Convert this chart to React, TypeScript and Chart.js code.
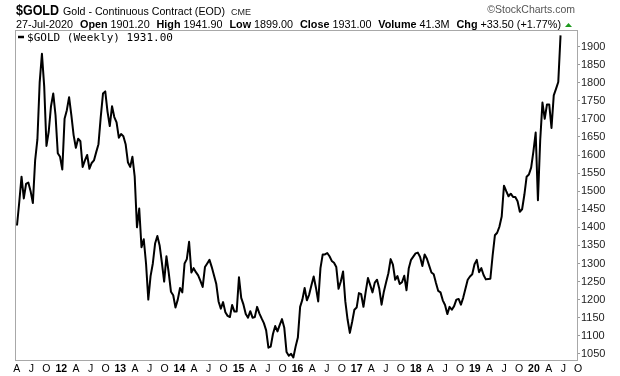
import React, { useEffect, useRef } from 'react';
import { Chart, registerables } from 'chart.js';

Chart.register(...registerables);

// ---- data (weekly gold closes, sampled every two weeks) ----
const SERIES_START = '2011-05-16';
const STEP_DAYS = 14;
const GOLD_CLOSE = [
  1405, 1470, 1540, 1480, 1520, 1524, 1500, 1467, 1585, 1643,
  1800, 1880, 1790, 1625, 1665, 1735, 1770, 1710, 1605, 1595,
  1560, 1700, 1724, 1760, 1710, 1655, 1620, 1645, 1638, 1567,
  1585, 1600, 1562, 1578, 1585, 1608, 1630, 1705, 1770, 1776,
  1720, 1680, 1735, 1705, 1690, 1648, 1658, 1652, 1630, 1580,
  1567, 1595, 1540, 1400, 1452, 1345, 1367, 1300, 1200, 1265,
  1300, 1355, 1376, 1350, 1302, 1250, 1320, 1275, 1222, 1212,
  1178, 1200, 1232, 1220, 1300, 1312, 1360, 1275, 1287, 1276,
  1267, 1252, 1235, 1290, 1300, 1310, 1290, 1267, 1243, 1195,
  1175, 1193, 1165, 1155, 1152, 1185, 1167, 1167, 1262, 1205,
  1186, 1160, 1150, 1168, 1150, 1152, 1180, 1162, 1148, 1135,
  1115, 1067, 1070, 1105, 1127, 1112, 1130, 1146, 1122, 1055,
  1045, 1050, 1040, 1070, 1095, 1180, 1200, 1232, 1198, 1214,
  1240, 1264, 1233, 1195, 1287, 1325, 1325, 1329, 1320, 1307,
  1302, 1290, 1230, 1250, 1278, 1195, 1145, 1108, 1138, 1172,
  1178, 1218, 1215, 1180, 1222, 1260, 1240, 1220, 1247, 1255,
  1230, 1186, 1222, 1248, 1273, 1312, 1297, 1255, 1265, 1243,
  1248, 1266, 1226, 1287, 1310, 1319, 1328, 1330, 1318, 1293,
  1325, 1313, 1294, 1275, 1270, 1246, 1224, 1220, 1198, 1185,
  1160, 1180, 1172, 1182, 1200, 1202, 1186, 1205, 1230, 1255,
  1264, 1270, 1298, 1310, 1276, 1287, 1268, 1256, 1257, 1258,
  1322, 1378, 1385, 1402, 1430, 1515, 1500, 1486, 1493, 1484,
  1484, 1472, 1443, 1450, 1490, 1540, 1546, 1565, 1610, 1662,
  1475, 1640, 1745, 1700, 1740, 1740, 1675, 1765, 1783, 1802,
  1931,
];

const Y_MIN = 1033;
const Y_MAX = 1943;
const Y_TICKS = [1050, 1100, 1150, 1200, 1250, 1300, 1350, 1400, 1450, 1500, 1550, 1600, 1650, 1700, 1750, 1800, 1850, 1900];
const TICK_YEARS = [2011, 2012, 2013, 2014, 2015, 2016, 2017, 2018, 2019, 2020];
const QUARTER_MONTHS = [0, 3, 6, 9];
const MONTH_LETTERS = ['', 'A', 'J', 'O'];

const HEADER_TITLE = '$GOLD';
const HEADER_DESC = 'Gold - Continuous Contract (EOD)';
const HEADER_EXCH = 'CME';
const HEADER_DATE = '27-Jul-2020';
const HEADER_FIELDS = [
  ['Open', '1901.20'],
  ['High', '1941.90'],
  ['Low', '1899.00'],
  ['Close', '1931.00'],
  ['Volume', '41.3M'],
  ['Chg', '+33.50 (+1.77%)'],
];
const LEGEND_TEXT = '$GOLD (Weekly) 1931.00';
const WATERMARK = '\u00A9StockCharts.com';

const FONT = '"Liberation Sans", Arial, sans-serif';

function decimalYear(d: Date): number {
  const y = d.getUTCFullYear();
  const a = Date.UTC(y, 0, 1);
  const b = Date.UTC(y + 1, 0, 1);
  return y + (d.getTime() - a) / (b - a);
}

const startMs = Date.parse(SERIES_START + 'T00:00:00Z');
const POINTS = GOLD_CLOSE.map((v, i) => ({
  x: decimalYear(new Date(startMs + i * STEP_DAYS * 86400000)),
  y: v,
}));
const PX_PER_YEAR = 59.09;
const X_MIN = POINTS[0].x - 1 / PX_PER_YEAR;
const X_MAX = X_MIN + 561 / PX_PER_YEAR;

type XTick = { value: number; label: string; bold: boolean };
const X_TICKS: XTick[] = [];
TICK_YEARS.forEach((y) => {
  QUARTER_MONTHS.forEach((m, qi) => {
    const v = decimalYear(new Date(Date.UTC(y, m, 1)));
    const label = qi === 0 ? String(y).slice(2) : MONTH_LETTERS[qi];
    if (v >= X_MIN - 0.2 && v <= X_MAX) {
      X_TICKS.push({ value: v, label, bold: qi === 0 });
    }
  });
});

function drawFit(ctx: CanvasRenderingContext2D, text: string, x: number, y: number, font: string, width: number | null, color: string, align: 'left' | 'right' = 'left') {
  ctx.save();
  ctx.font = font;
  ctx.fillStyle = color;
  ctx.textBaseline = 'alphabetic';
  const w = ctx.measureText(text).width;
  const s = width ? width / w : 1;
  const x0 = align === 'right' ? x - w * s : x;
  ctx.translate(x0, y);
  ctx.scale(s, 1);
  ctx.textAlign = 'left';
  ctx.fillText(text, 0, 0);
  ctx.restore();
}

const decorPlugin = {
  id: 'decor',
  afterDraw(chart: any) {
    const ctx: CanvasRenderingContext2D = chart.ctx;
    const { left, top, right, bottom } = chart.chartArea;
    ctx.save();
    // plot frame
    ctx.strokeStyle = '#a8a8a8';
    ctx.lineWidth = 1;
    ctx.strokeRect(Math.round(left) - 0.5, Math.round(top) - 0.5, Math.round(right - left) + 1, Math.round(bottom - top) + 1);

    // header line 1
    drawFit(ctx, HEADER_TITLE, 16, 15, `bold 14px ${FONT}`, 43, '#000');
    drawFit(ctx, HEADER_DESC, 63, 15, `11px ${FONT}`, 162, '#000');
    drawFit(ctx, HEADER_EXCH, 231, 15, `9px ${FONT}`, 20, '#222');
    drawFit(ctx, WATERMARK, 575, 13, `10.5px ${FONT}`, null, '#555', 'right');

    // header line 2
    type Seg = { t: string; b: boolean; gap: number };
    const segs: Seg[] = [{ t: HEADER_DATE, b: false, gap: 0 }];
    HEADER_FIELDS.forEach(([k, v]) => {
      segs.push({ t: k, b: true, gap: 7 });
      segs.push({ t: v, b: false, gap: 3 });
    });
    let total = 0;
    const widths = segs.map((s) => {
      ctx.font = `${s.b ? 'bold ' : ''}11px ${FONT}`;
      const w = ctx.measureText(s.t).width;
      total += w + s.gap;
      return w;
    });
    const sc = (561 - 16) / total;
    ctx.save();
    ctx.translate(16, 28);
    ctx.scale(sc, 1);
    let cx = 0;
    segs.forEach((s, i) => {
      cx += s.gap;
      ctx.font = `${s.b ? 'bold ' : ''}11px ${FONT}`;
      ctx.fillStyle = '#000';
      ctx.fillText(s.t, cx, 0);
      cx += widths[i];
    });
    ctx.restore();
    // up triangle
    ctx.fillStyle = '#1e9a1e';
    ctx.beginPath();
    ctx.moveTo(565, 27);
    ctx.lineTo(572, 27);
    ctx.lineTo(568.5, 23);
    ctx.closePath();
    ctx.fill();

    // legend
    ctx.strokeStyle = '#000';
    ctx.lineWidth = 2.5;
    ctx.beginPath();
    ctx.moveTo(18, 37);
    ctx.lineTo(24, 37);
    ctx.stroke();
    drawFit(ctx, LEGEND_TEXT, 27, 41, `11px "DejaVu Sans Mono", monospace`, 146, '#000');
    ctx.restore();
  },
};

export default function App() {
  const ref = useRef<HTMLCanvasElement | null>(null);
  useEffect(() => {
    document.body.style.margin = '0';
    document.body.style.background = '#fff';
    const canvas = ref.current;
    if (!canvas) return;
    const chart = new Chart(canvas, {
      type: 'line',
      data: {
        datasets: [
          {
            data: POINTS,
            borderColor: '#000',
            borderWidth: 2,
            borderJoinStyle: 'round',
            pointRadius: 0,
            tension: 0,
            fill: false,
          },
        ],
      },
      options: {
        animation: false,
        responsive: false,
        events: [],
        layout: { padding: { left: 16, top: 31, right: 0, bottom: 0 } },
        plugins: { legend: { display: false }, tooltip: { enabled: false } },
        scales: {
          x: {
            type: 'linear',
            min: X_MIN,
            max: X_MAX,
            afterBuildTicks: (s: any) => {
              s.ticks = X_TICKS.map((t) => ({ value: t.value }));
            },
            afterFit: (s: any) => {
              s.height = 16;
            },
            grid: { display: false, drawTicks: false },
            border: { display: false },
            ticks: {
              autoSkip: false,
              maxRotation: 0,
              minRotation: 0,
              labelOffset: 7,
              padding: 3,
              color: '#000',
              callback: (_v: any, i: number) => X_TICKS[i].label,
              font: (c: any) => ({ family: FONT, size: 10.5, weight: X_TICKS[c.index] && X_TICKS[c.index].bold ? 'bold' : 'normal' }),
            },
          },
          y: {
            type: 'linear',
            position: 'right',
            min: Y_MIN,
            max: Y_MAX,
            afterBuildTicks: (s: any) => {
              s.ticks = Y_TICKS.map((v) => ({ value: v }));
            },
            afterFit: (s: any) => {
              s.width = 43;
            },
            grid: { drawOnChartArea: false, drawTicks: true, tickLength: 3, color: '#9a9a9a' },
            border: { display: false },
            ticks: {
              padding: 1,
              color: '#222',
              font: { family: FONT, size: 11 },
              callback: (v: any) => String(v),
            },
          },
        },
      },
      plugins: [decorPlugin],
    });
    return () => chart.destroy();
  }, []);
  return <canvas ref={ref} width={620} height={376} style={{ display: 'block' }} />;
}
